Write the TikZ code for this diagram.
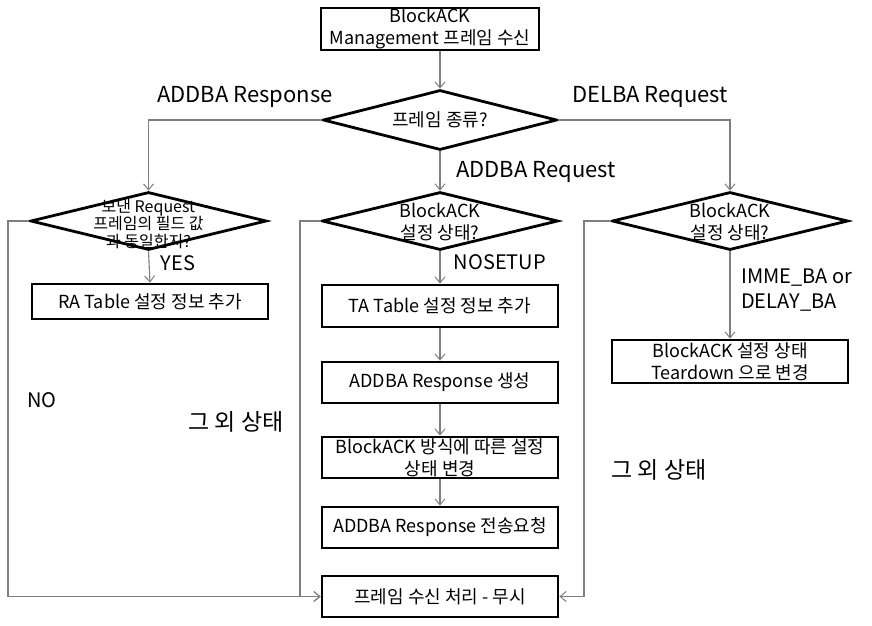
\documentclass[tikz,border=0pt]{standalone}
\usepackage{fontspec}
\setmainfont{Noto Sans CJK KR}
\usetikzlibrary{shapes.geometric,arrows.meta}
\definecolor{lineg}{HTML}{7F7F7F}
\begin{document}
\begin{tikzpicture}[x=1pt,y=-1pt,
  box/.style={draw=black,line width=2.8pt,fill=white,minimum width=236pt,minimum height=41pt,inner sep=0pt,align=center,font=\fontsize{18}{22}\selectfont},
  dia/.style={draw=black,line width=2.8pt,diamond,inner sep=0pt,minimum width=236pt,minimum height=58pt},
  dtext/.style={align=center,font=\fontsize{18}{22}\selectfont,inner sep=0pt},
  stext/.style={align=center,font=\fontsize{16}{17.5}\selectfont,inner sep=0pt},
  lbl/.style={font=\fontsize{20}{25}\selectfont,inner sep=0pt},
  biglbl/.style={font=\fontsize{22}{25}\selectfont,inner sep=0pt},
  hlbl/.style={font=\fontsize{23}{25}\selectfont,inner sep=0pt},
  conn/.style={draw=lineg,line width=1.1pt,-{Straight Barb[length=6pt,width=10pt,line width=1pt]}}]
\useasboundingbox (0,0) rectangle (872,625);
\fill[white] (0,0) rectangle (872,625);

% boxes
\node[box,minimum width=218pt,minimum height=42pt] (top) at (430,29) {BlockACK\\Management 프레임 수신};
\node[box,minimum height=35pt] (ra) at (150,301.5) {RA Table 설정 정보 추가};
\node[box,minimum height=42pt] (ta) at (440,306) {TA Table 설정 정보 추가};
\node[box] (gen) at (440,382.5) {ADDBA Response 생성};
\node[box] (chg) at (440,457.5) {BlockACK 방식에 따른 설정\\상태 변경};
\node[box] (snd) at (440,527.5) {ADDBA Response 전송요청};
\node[box] (fin) at (440,596.5) {프레임 수신 처리 - 무시};
\node[box,minimum height=43pt] (td) at (730,361.5) {BlockACK 설정 상태\\Teardown 으로 변경};

% diamonds
\node[dia,minimum width=234pt,minimum height=60pt] (d1) at (440,120) {};
\node[dia] (d2) at (148.5,221) {};
\node[dia] (d3) at (440,221) {};
\node[dia] (d4) at (730,221) {};
\node[dtext] (t1) at (d1) {프레임 종류?};
\node[stext] (t2) at (148.5,224) {보낸 Request\\프레임의 필드 값\\과 동일한지?};
\node[dtext] (t3) at (440,222) {BlockACK\\설정 상태?};
\node[dtext] (t4) at (730,222) {BlockACK\\설정 상태?};

% labels
\node[biglbl] (lresp) at (245,97) {ADDBA Response};
\node[biglbl] (ldel) at (650,97) {DELBA Request};
\node[biglbl] (lreq) at (536,172) {ADDBA Request};
\node[lbl] (lyes) at (178,263) {YES};
\node[lbl] (lnos) at (500,262) {NOSETUP};
\node[lbl,align=left,anchor=west] (limme) at (741,290) {IMME\_BA or\\DELAY\_BA};
\node[lbl] (lno) at (42,400) {NO};
\node[hlbl] (lo1) at (236,422) {그 외 상태};
\node[hlbl] (lo2) at (659,470) {그 외 상태};

% connector turning points
\coordinate (nol) at (8,221);
\coordinate (mid) at (300,221);
\coordinate (rgt) at (584,221);

% connectors
\draw[conn] (top.south -| d1.north) -- (d1.north);
\draw[conn] (d1.west) -| (d2.north);
\draw[conn] (d1.east) -| (d4.north);
\draw[conn] (d1.south) -- (d3.north);
\draw[conn] (d2.south) -- (ra.north);
\draw[conn] (d3.south) -- (ta.north);
\draw[conn] (ta.south) -- (gen.north);
\draw[conn] (gen.south) -- (chg.north);
\draw[conn] (chg.south) -- (snd.north);
\draw[conn] (d4.south) -- (td.north);
\draw[conn] (d2.west) -- (nol) |- (fin.west);
\draw[conn] (d3.west) -- (mid) |- (fin.west);
\draw[conn] (d4.west) -- (rgt) |- (fin.east);
\end{tikzpicture}
\end{document}
